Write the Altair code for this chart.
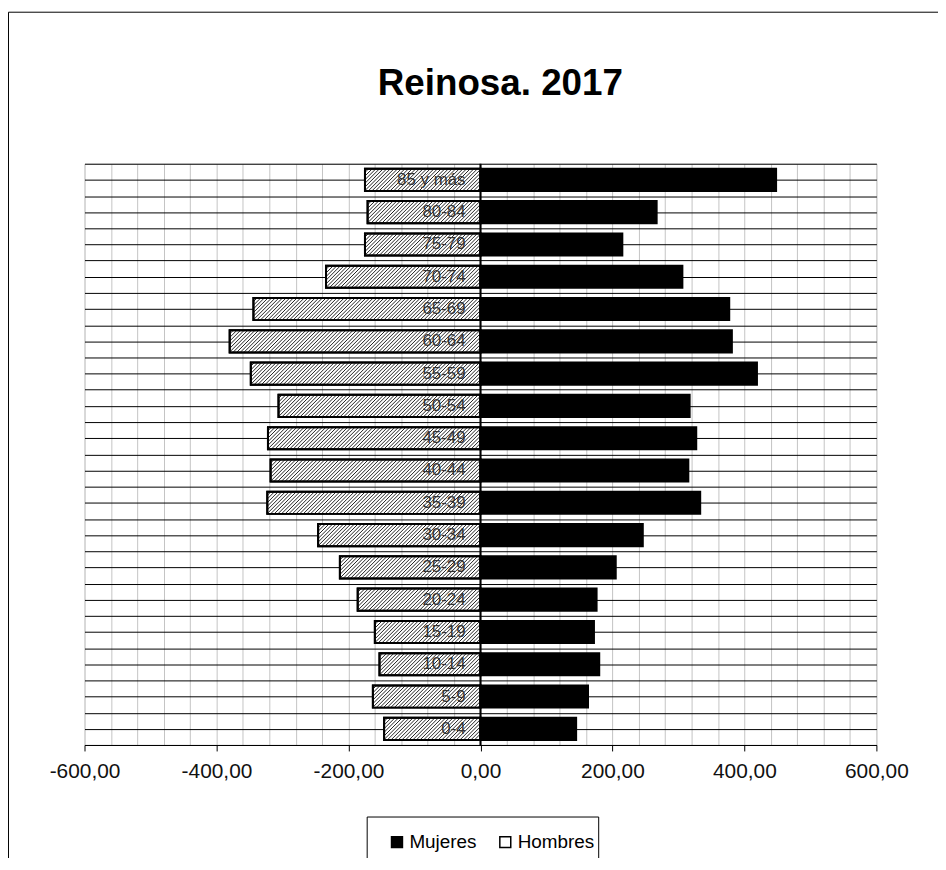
import altair as alt
import pandas as pd

# ---- data ----
ages = ["0-4", "5-9", "10-14", "15-19", "20-24", "25-29", "30-34", "35-39",
        "40-44", "45-49", "50-54", "55-59", "60-64", "65-69", "70-74",
        "75-79", "80-84", "85 y más"]
hombres = [146, 163, 153, 160, 186, 213, 246, 323, 318, 322, 306, 348,
           380, 344, 234, 175, 171, 175]
mujeres = [145, 163, 180, 172, 176, 205, 246, 333, 315, 327, 317, 419,
           381, 377, 306, 215, 267, 448]
sexos = ["Mujeres", "Hombres"]
title_text = "Reinosa. 2017"

# ---- layout / style constants ----
FONT = "Liberation Sans"
W, HGT = 797, 585
XMIN, XMAX = -600, 600
HALF = 0.343                    # half bar thickness, in row units
PX_ROW = HGT / len(ages)
PX_UNIT = W / (XMAX - XMIN)
DX = 2 * HALF * PX_ROW / PX_UNIT  # 45-degree hatch run, value units
STEP = 5.5                      # hatch spacing, value units

rows = []
for i, a in enumerate(ages):
    rows.append({"age": a, "i": i, "sexo": "Hombres", "v": -hombres[i]})
    rows.append({"age": a, "i": i, "sexo": "Mujeres", "v": mujeres[i]})
df = pd.DataFrame(rows)
men = df[df["sexo"] == "Hombres"].reset_index(drop=True)
lab = pd.DataFrame({"age": ages, "i": list(range(len(ages)))})
one = pd.DataFrame({"k": [0]})

xscale = alt.Scale(domain=[XMIN, XMAX], nice=False, zero=False)
yscale = alt.Scale(domain=[-0.5, len(ages) - 0.5], nice=False, zero=False)

xaxis = alt.Axis(
    values=list(range(XMIN, XMAX + 1, 40)), tickCount=100,
    title=None, grid=True, gridColor="#c4c4c4", gridWidth=1,
    domainColor="black", domainWidth=1,
    tickSize=6, tickWidth=1,
    tickColor={"condition": {"test": "abs(datum.value % 200) < 0.001", "value": "black"},
               "value": "transparent"},
    labelExpr="abs(datum.value % 200) < 0.001 ? (datum.value < 0 ? '-' : '') + "
              "replace(format(abs(datum.value), '.2f'), '.', ',') : ''",
    labelFont=FONT, labelFontSize=21, labelColor="#111111",
    labelPadding=10, labelFlush=False, labelOverlap=False,
)
yaxis = alt.Axis(
    values=[k / 2 for k in range(-1, 2 * len(ages))], tickCount=100,
    title=None, labels=False, ticks=False, domain=False,
    grid=True, gridColor="black", gridWidth=1,
)

bars = alt.Chart(df).transform_calculate(
    y0=f"datum.i - {HALF}", y1=f"datum.i + {HALF}"
).mark_bar(stroke="black", strokeWidth=2).encode(
    x=alt.X("v:Q", scale=xscale, axis=xaxis),
    x2=alt.datum(0),
    y=alt.Y("y0:Q", scale=yscale, axis=yaxis),
    y2="y1:Q",
    color=alt.Color(
        "sexo:N",
        scale=alt.Scale(domain=sexos, range=["black", "white"]),
        legend=alt.Legend(
            title=None, orient="none", legendX=305, legendY=673,
            direction="horizontal", symbolType="square", symbolSize=121,
            symbolStrokeColor="black", symbolStrokeWidth=1.5,
            labelFont=FONT, labelFontSize=19, labelColor="black",
            labelOffset=3, columnPadding=19, padding=0,
        ),
    ),
)

hatch = alt.Chart(men).transform_calculate(
    n=f"ceil((abs(datum.v) + {DX}) / {STEP})",
).transform_calculate(
    ks="sequence(0, datum.n + 1)"
).transform_flatten(["ks"]).transform_calculate(
    a=f"datum.v - {DX} + datum.ks * {STEP}",
).transform_calculate(
    t0=f"max(0, (datum.v - datum.a) / {DX})",
    t1=f"min(1, (0 - datum.a) / {DX})",
).transform_filter("datum.t1 > datum.t0").transform_calculate(
    xa=f"datum.a + datum.t0 * {DX}",
    xb=f"datum.a + datum.t1 * {DX}",
    ya=f"datum.i - {HALF} + datum.t0 * {2 * HALF}",
    yb=f"datum.i - {HALF} + datum.t1 * {2 * HALF}",
).mark_rule(color="#222", strokeWidth=1).encode(
    x=alt.X("xa:Q", scale=xscale, axis=xaxis),
    x2="xb:Q",
    y=alt.Y("ya:Q", scale=yscale, axis=yaxis),
    y2="yb:Q",
)

outline = alt.Chart(men).transform_calculate(
    y0=f"datum.i - {HALF}", y1=f"datum.i + {HALF}"
).mark_bar(fillOpacity=0, stroke="black", strokeWidth=2).encode(
    x=alt.X("v:Q", scale=xscale, axis=xaxis),
    x2=alt.datum(0),
    y=alt.Y("y0:Q", scale=yscale, axis=yaxis),
    y2="y1:Q",
)

zero = alt.Chart(one).mark_rule(color="black", strokeWidth=2).encode(
    x=alt.X("k:Q", scale=xscale, axis=xaxis)
)

labels = alt.Chart(lab).mark_text(
    align="right", baseline="middle", dx=-15, font=FONT, fontSize=17,
    color="#333333"
).encode(
    x=alt.datum(0),
    y=alt.Y("i:Q", scale=yscale, axis=yaxis),
    text="age:N",
)

border_top = alt.Chart(one).mark_rule(color="black", strokeWidth=1).encode(
    x=alt.value(-76.5), x2=alt.value(900), y=alt.value(-152.5)
)
border_left = alt.Chart(one).mark_rule(color="black", strokeWidth=1).encode(
    x=alt.value(-76.5), y=alt.value(-152.5), y2=alt.value(720)
)
legend_box = alt.Chart(one).mark_rect(
    fill="white", stroke="black", strokeWidth=1
).encode(
    x=alt.value(284.5), x2=alt.value(517.5),
    y=alt.value(657.5), y2=alt.value(740),
)

chart = alt.layer(
    legend_box, border_top, border_left, bars, hatch, outline, zero, labels
).properties(
    width=W, height=HGT,
    title=alt.TitleParams(
        title_text, font=FONT, fontSize=37, fontWeight="bold", color="black",
        anchor="middle", baseline="alphabetic", offset=-121, dx=20,
    ),
    autosize=alt.AutoSizeParams(type="none"),
    padding={"left": 77, "top": 154, "right": 62, "bottom": 111},
).configure_view(strokeWidth=0).configure(background="white")

chart.save("out.html", embed_options={"renderer": "svg", "actions": False})
